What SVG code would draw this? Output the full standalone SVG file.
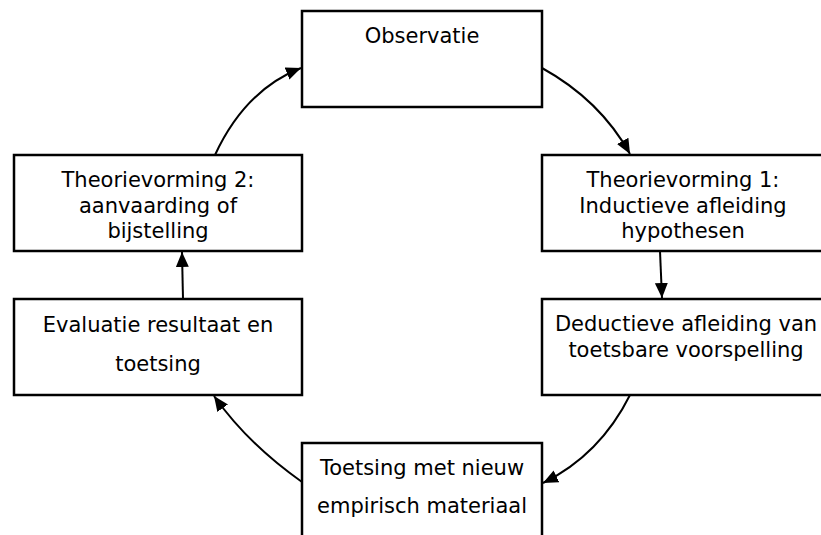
<svg xmlns="http://www.w3.org/2000/svg" width="821" height="535" viewBox="0 0 821 535">
  <style>
    .box { fill: #ffffff; stroke: #000000; stroke-width: 2.5; }
    .lbl { font-family: "DejaVu Sans", Verdana, sans-serif; font-size: 21px; fill: #000000; text-anchor: middle; }
    .edge { fill: none; stroke: #000000; stroke-width: 2; marker-end: url(#arrow); }
  </style>
  <defs>
    <marker id="arrow" markerUnits="userSpaceOnUse" markerWidth="16" markerHeight="14" refX="15" refY="6.5" orient="auto">
      <path d="M0,0 L15,6.5 L0,13 z" fill="#000000"/>
    </marker>
  </defs>
  <rect width="821" height="535" fill="#ffffff"/>

  <g id="observatie">
    <rect class="box" x="302" y="11" width="240" height="96"/>
    <text class="lbl" x="422" y="43">Observatie</text>
  </g>

  <g id="theorievorming1">
    <rect class="box" x="542" y="155" width="284" height="96"/>
    <text class="lbl" x="683" y="187">Theorievorming 1:</text>
    <text class="lbl" x="683" y="213">Inductieve afleiding</text>
    <text class="lbl" x="683" y="238">hypothesen</text>
  </g>

  <g id="deductie">
    <rect class="box" x="542" y="299" width="284" height="96"/>
    <text class="lbl" x="686" y="331">Deductieve afleiding van</text>
    <text class="lbl" x="686" y="357">toetsbare voorspelling</text>
  </g>

  <g id="toetsing">
    <rect class="box" x="302" y="443" width="240" height="100"/>
    <text class="lbl" x="422" y="475">Toetsing met nieuw</text>
    <text class="lbl" x="422" y="513">empirisch materiaal</text>
  </g>

  <g id="evaluatie">
    <rect class="box" x="14" y="299" width="288" height="96"/>
    <text class="lbl" x="158" y="332">Evaluatie resultaat en</text>
    <text class="lbl" x="158" y="371">toetsing</text>
  </g>

  <g id="theorievorming2">
    <rect class="box" x="14" y="155" width="288" height="96"/>
    <text class="lbl" x="158" y="187">Theorievorming 2:</text>
    <text class="lbl" x="158" y="213">aanvaarding of</text>
    <text class="lbl" x="158" y="238">bijstelling</text>
  </g>

  <g id="connectors">
    <path class="edge" d="M542,68 Q600,100 630,154"/>
    <path class="edge" d="M660,251 L662,298"/>
    <path class="edge" d="M630,395 Q600,455 543,483"/>
    <path class="edge" d="M302,482 Q248,444 214,396"/>
    <path class="edge" d="M183,299 L182,252"/>
    <path class="edge" d="M215,155 Q245,90 301,68"/>
  </g>
</svg>
